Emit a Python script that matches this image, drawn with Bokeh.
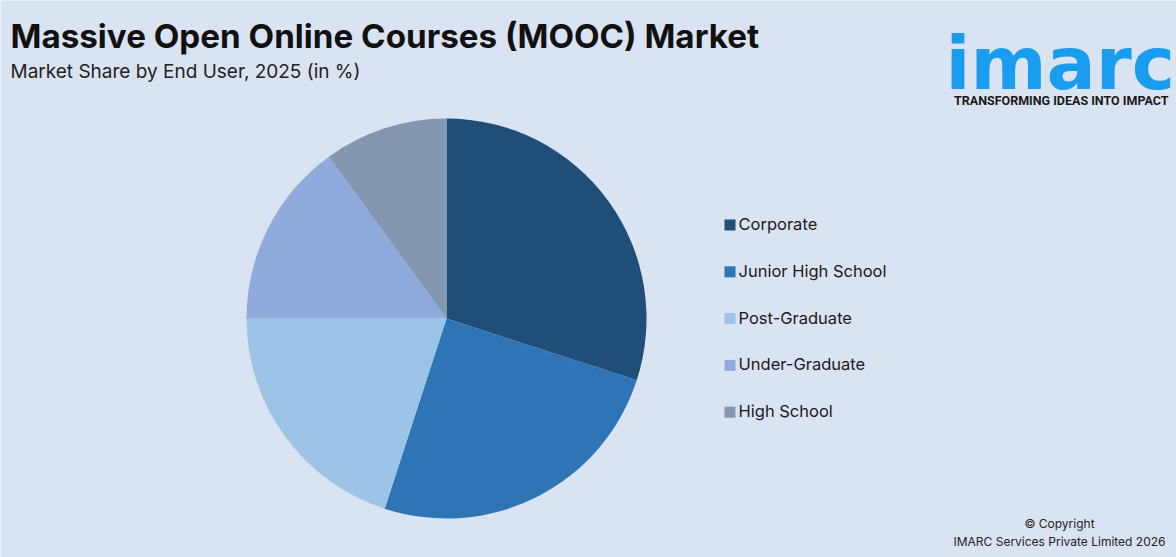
import numpy as np
from bokeh.plotting import figure
from bokeh.models import Range1d, Label, ColumnDataSource
from bokeh.embed import file_html
from bokeh.resources import INLINE
from bokeh.core.properties import value

categories = ["Corporate", "Junior High School", "Post-Graduate", "Under-Graduate", "High School"]
shares = [30, 25, 20, 15, 10]
colors = ["#1F4E79", "#2E75B6", "#9DC3E6", "#8FAADC", "#8497B0"]

W, H = 1176, 557
BG = "#DAE3F1"

p = figure(width=W, height=H, output_backend="svg", toolbar_location=None,
           x_range=Range1d(0, W), y_range=Range1d(0, H), min_border=0,
           background_fill_color=BG, border_fill_color=BG, outline_line_color=None)
p.axis.visible = False
p.grid.visible = False


def Y(top):
    return H - top


# pie
vals = np.array(shares, dtype=float)
frac = vals / vals.sum()
cum = np.cumsum(frac)
prev = cum - frac
start = np.pi / 2 - cum * 2 * np.pi
end = np.pi / 2 - prev * 2 * np.pi
cx, cy, r = 446, Y(318), 200
src = ColumnDataSource(dict(cat=categories, start=start, end=end, color=colors,
                            x=[cx] * len(categories), y=[cy] * len(categories)))
p.wedge(x="x", y="y", radius=r, start_angle="start", end_angle="end",
        direction="anticlock", fill_color="color", line_color=None, source=src)

# legend
n = len(categories)
ly = [Y(224.5 + i * 46.8) for i in range(n)]
lty = [v + 1 for v in ly]
lsrc = ColumnDataSource(dict(x=[729.5] * n, y=ly, ty=lty, tx=[738] * n, cat=categories, color=colors))
p.rect(x="x", y="y", width=11, height=11, fill_color="color", line_color=None, source=lsrc)
p.text(x="tx", y="ty", text="cat", source=lsrc, text_font=value("Inter"),
       text_font_size="16.5px", text_color="#1a1a1a", text_baseline="middle")

# titles
p.add_layout(Label(x=10, y=Y(35), text="Massive Open Online Courses (MOOC) Market",
                   text_font="Inter", text_font_size="33.2px", text_font_style="bold",
                   text_color="#111111", text_baseline="middle"))
p.add_layout(Label(x=10, y=Y(71), text="Market Share by End User, 2025 (in %)",
                   text_font="Inter", text_font_size="19px",
                   text_color="#222222", text_baseline="middle"))

# logo
p.add_layout(Label(x=945, y=Y(63), text="imarc", text_font="DejaVu Sans", text_font_size="73px",
                   text_font_style="bold", text_color="#1A9DEF", text_baseline="middle"))
p.add_layout(Label(x=1168, y=Y(100), text="TRANSFORMING IDEAS INTO IMPACT", text_font="Roboto",
                   text_font_size="12.5px", text_font_style="bold", text_color="#1a1a1a",
                   text_baseline="middle", text_align="right"))

# copyright
p.add_layout(Label(x=1059, y=Y(523), text="© Copyright", text_font="Inter", text_font_size="12px",
                   text_color="#222222", text_baseline="middle", text_align="center"))
p.add_layout(Label(x=1059, y=Y(541), text="IMARC Services Private Limited 2026", text_font="Inter",
                   text_font_size="12px", text_color="#222222", text_baseline="middle",
                   text_align="center"))

html = file_html(p, INLINE)
html = html.replace("<body>", '<body style="background:%s;margin:0">' % BG, 1)
open("out.html", "w").write(html)
